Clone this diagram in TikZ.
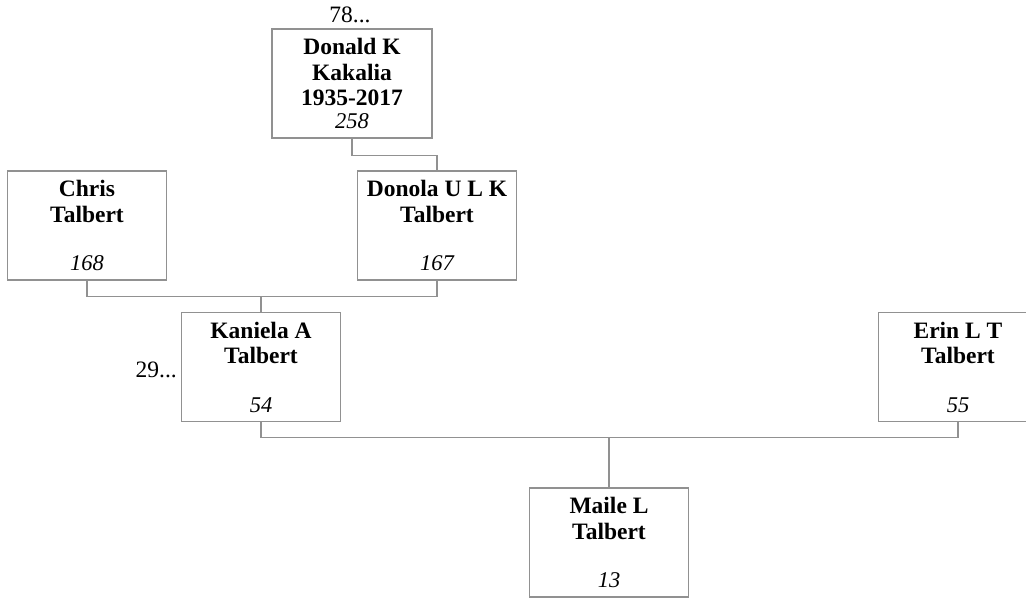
\documentclass[tikz,border=0pt]{standalone}
\usepackage{fontspec}
\setmainfont{Liberation Serif}
\definecolor{boxgray}{RGB}{145,145,145}

\begin{document}
\begin{tikzpicture}[x=1pt,y=-1pt]
    \useasboundingbox (0,0) rectangle (1026,599);
    \clip (0,0) rectangle (1026,599);
    % Persons
    \foreach \i/\cx/\cy/\bw/\who/\num in {1/352/83.5/160/{Donald K\\Kakalia\\1935-2017}/258,
        2/87/225.5/159/{Chris\\Talbert}/168,
        3/437/225.5/159/{Donola U L K\\Talbert}/167,
        4/261/367/159/{Kaniela A\\Talbert}/54,
        5/958/367/159/{Erin L T\\Talbert}/55,
        6/609/542.5/159/{Maile L\\Talbert}/13} {
        \node[rectangle, draw=boxgray, line width=1.2pt, minimum width=\bw pt, minimum height=109pt, inner sep=0]
        (Person-\i) at (\cx,\cy) {};
        \node[anchor=north, align=center, inner sep=0, font=\fontsize{23.5}{25.5}\selectfont\bfseries]
        (Name-\i) at ([yshift=-10pt]Person-\i.north) {\who};
        \node[anchor=base, inner sep=0, font=\fontsize{22.5}{24}\selectfont\itshape]
        (Num-\i) at ([yshift=10pt]Person-\i.south) {\num};
    }
    % More
    \node[anchor=base, inner sep=0, font=\fontsize{23.5}{24}\selectfont] (More-1) at (350,23) {78...};
    \node[anchor=base east, inner sep=0, font=\fontsize{23.5}{24}\selectfont] (More-4) at (177,377) {29...};
    % Lines
    \coordinate (Bar-1) at (261,296);
    \coordinate (Bar-2) at (609,437);
    \draw[boxgray, line width=1.2pt] (Person-1.south) -- ++(0,17) -| (Person-3.north);
    \draw[boxgray, line width=1.2pt] (Person-2.south) -- ++(0,16) -| (Person-3.south);
    \draw[boxgray, line width=1.2pt] (Bar-1) -- (Person-4.north);
    \draw[boxgray, line width=1.2pt] (Person-4.south) -- ++(0,15) -| (Person-5.south);
    \draw[boxgray, line width=1.2pt] (Bar-2) -- (Person-6.north);
\end{tikzpicture}
\end{document}
